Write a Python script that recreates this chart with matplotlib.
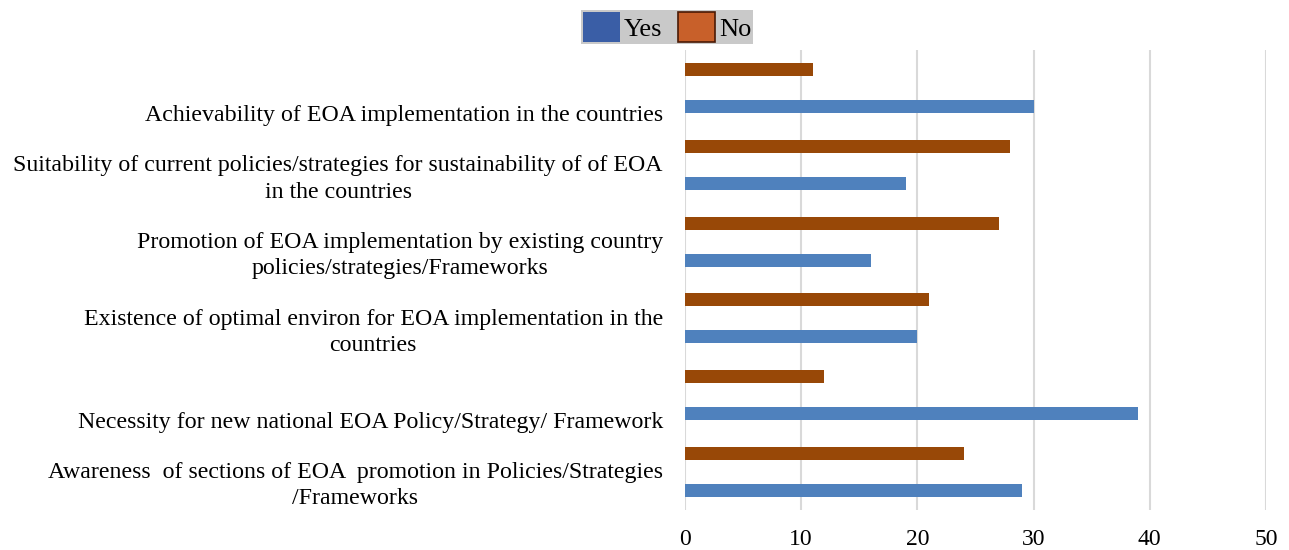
import matplotlib
matplotlib.use("Agg")
import matplotlib.pyplot as plt
import numpy as np
from matplotlib.patches import Patch

categories = [
    "Awareness  of sections of EOA  promotion in Policies/Strategies\n/Frameworks",
    "Necessity for new national EOA Policy/Strategy/ Framework",
    "Existence of optimal environ for EOA implementation in the\ncountries",
    "Promotion of EOA implementation by existing country\npolicies/strategies/Frameworks",
    "Suitability of current policies/strategies for sustainability of of EOA\nin the countries",
    "Achievability of EOA implementation in the countries",
]
yes_vals = [29, 39, 20, 16, 19, 30]
no_vals = [24, 12, 21, 27, 28, 11]
xticks = [0, 10, 20, 30, 40, 50]

plt.rcParams['font.family'] = ['Liberation Serif', 'DejaVu Serif']

fig = plt.figure(figsize=(12.89, 5.5), dpi=100)
ax = fig.add_axes([685/1289, 40/550, (1266-685)/1289, 460/550])

y = np.arange(len(categories))
h = 0.17
ax.barh(y - 0.24, yes_vals, height=h, color='#4f81bd', label='Yes', zorder=3)
ax.barh(y + 0.24, no_vals, height=h, color='#984807', label='No', zorder=3)

ax.set_xlim(0, 50)
ax.set_ylim(-0.5, len(categories) - 0.5)
ax.set_xticks(xticks)
ax.set_xticklabels([str(t) for t in xticks], fontsize=17)
ax.set_yticks([])
ax.tick_params(axis='x', length=0, pad=14)
ax.grid(axis='x', color='#d9d9d9', linewidth=1.5, zorder=0)
for s in ax.spines.values():
    s.set_visible(False)

for i, lab in enumerate(categories):
    ax.text(-0.038, i - 0.49, lab, transform=ax.get_yaxis_transform(),
            ha='right', va='bottom', fontsize=17.2, multialignment='center',
            linespacing=1.32)

handles = [Patch(facecolor='#3a5ea6', edgecolor='none'),
           Patch(facecolor='#c8602a', edgecolor='#4a1a05', linewidth=1.2)]
leg = fig.legend(handles, ['Yes', 'No'], loc='center', bbox_to_anchor=(667/1289, 1 - 27/550),
                 ncol=2, frameon=True, fontsize=19, facecolor='#c9c9c9', edgecolor='none',
                 framealpha=1, fancybox=False, handlelength=1.4, handleheight=1.35,
                 handletextpad=0.15, columnspacing=0.6, borderpad=0.08, borderaxespad=0)

fig.savefig('out.png', dpi=100)
